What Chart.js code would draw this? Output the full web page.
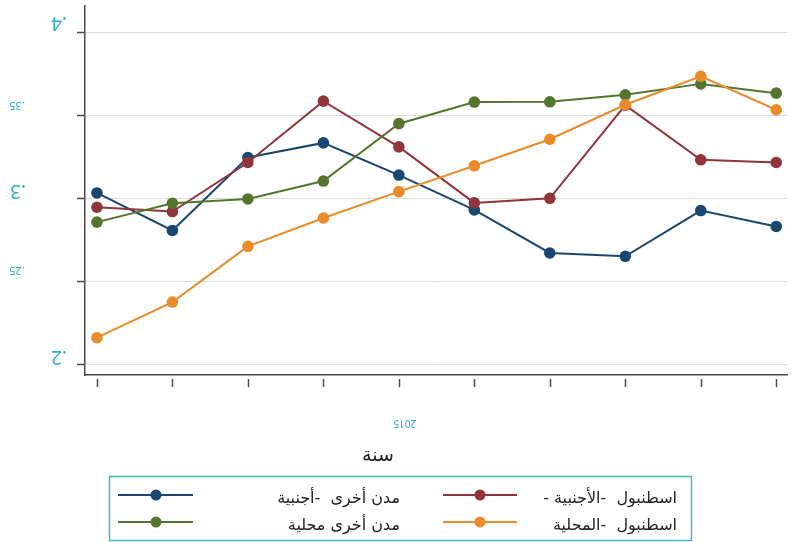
<!DOCTYPE html>
<html>
<head>
<meta charset="utf-8">
<script src="https://cdn.jsdelivr.net/npm/chart.js"></script>
<style>
    html, body { margin: 0; padding: 0; background: #fff; }
    #wrap { width: 793px; height: 542px; }
</style>
</head>
<body>
<div id="wrap"><canvas id="chart" width="793" height="542"></canvas></div>
<script>
// Values
const years = [2011, 2012, 2013, 2014, 2015, 2016, 2017, 2018, 2019, 2020];
const otherForeign = [0.3034, 0.2808, 0.3248, 0.3336, 0.3142, 0.2932, 0.2672, 0.2652, 0.2928, 0.2832];
const istanbulForeign = [0.2948, 0.2922, 0.3218, 0.3588, 0.3312, 0.2974, 0.3002, 0.3564, 0.3234, 0.3218];
const otherLocal = [0.2858, 0.2972, 0.2998, 0.3106, 0.3452, 0.3582, 0.3584, 0.3626, 0.3692, 0.3636];
const istanbulLocal = [0.2161, 0.2376, 0.2712, 0.2883, 0.3042, 0.3198, 0.3358, 0.3566, 0.3738, 0.3536];

const yTicks = [0.2, 0.25, 0.3, 0.35, 0.4];
const yTickLabels = ['.2', '.25', '.3', '.35', '.4'];
const xLabelYears = [2015];
const xLabels = ['2015'];
const xTitle = 'سنة';

const seriesNames = ['مدن أخرى  -أجنبية', 'اسطنبول  -الأجنبية -', 'مدن أخرى محلية', 'اسطنبول  -المحلية'];
const seriesValues = [otherForeign, istanbulForeign, otherLocal, istanbulLocal];
const seriesColors = ['#1a476f', '#90353b', '#55752f', '#e98b2a'];

const TEAL = '#2eb1bf';
const AXIS = '#4a4a4a';

// odd placement of the flipped tick labels in the reference
const yLabelStyle = {
    '.2':  { x: 59, dy: -8, size: 19 },
    '.25': { x: 17, dy: -11, size: 11 },
    '.3':  { x: 18, dy: -8, size: 19 },
    '.35': { x: 17, dy: -11, size: 11 },
    '.4':  { x: 59, dy: -10, size: 19 }
};

function drawFlipped(ctx, text, x, y) {
    ctx.save();
    ctx.translate(x, y);
    ctx.rotate(Math.PI);
    ctx.fillText(text, 0, 0);
    ctx.restore();
}

const decorPlugin = {
    id: 'decor',
    afterDraw(chart) {
        const ctx = chart.ctx;
        const xs = chart.scales.x;
        const ys = chart.scales.y;

        // y tick labels, upside down
        ctx.save();
        ctx.fillStyle = TEAL;
        ctx.textAlign = 'center';
        ctx.textBaseline = 'middle';
        yTicks.forEach((v, i) => {
            const lab = yTickLabels[i];
            const st = yLabelStyle[lab];
            ctx.font = st.size + 'px "Noto Sans", "Open Sans", sans-serif';
            drawFlipped(ctx, lab, st.x, ys.getPixelForValue(v) + st.dy);
        });
        ctx.restore();

        // x tick marks, detached from the axis line
        ctx.save();
        ctx.strokeStyle = AXIS;
        ctx.lineWidth = 1.5;
        years.forEach(yr => {
            const px = Math.round(xs.getPixelForValue(yr)) + 0.5;
            ctx.beginPath();
            ctx.moveTo(px, xs.top + 4);
            ctx.lineTo(px, xs.top + 12);
            ctx.stroke();
        });
        ctx.fillStyle = TEAL;
        ctx.font = '10px "Noto Sans", "Open Sans", sans-serif';
        ctx.textAlign = 'center';
        ctx.textBaseline = 'middle';
        xLabelYears.forEach((yr, i) => {
            drawFlipped(ctx, xLabels[i], xs.getPixelForValue(yr) + 6, xs.top + 48);
        });

        // axis title
        ctx.fillStyle = '#222';
        ctx.font = '19px "DejaVu Sans", sans-serif';
        ctx.direction = 'rtl';
        ctx.fillText(xTitle, 378, 456);
        ctx.restore();

        // legend box
        ctx.save();
        ctx.strokeStyle = '#3cbcc4';
        ctx.lineWidth = 1.5;
        ctx.strokeRect(109.5, 476.5, 582, 64);

        const cols = [
            { x1: 118, x2: 193, mx: 156, tx: 400 },
            { x1: 443, x2: 517, mx: 480, tx: 677 }
        ];
        const rows = [495, 522];
        ctx.font = '16px "DejaVu Sans", sans-serif';
        ctx.textBaseline = 'middle';
        ctx.direction = 'rtl';
        ctx.textAlign = 'right';
        seriesNames.forEach((name, i) => {
            const c = cols[i % 2];
            const ry = rows[Math.floor(i / 2)];
            ctx.strokeStyle = seriesColors[i];
            ctx.lineWidth = 2;
            ctx.beginPath();
            ctx.moveTo(c.x1, ry);
            ctx.lineTo(c.x2, ry);
            ctx.stroke();
            ctx.fillStyle = seriesColors[i];
            ctx.beginPath();
            ctx.arc(c.mx, ry, 5.5, 0, Math.PI * 2);
            ctx.fill();
            ctx.fillStyle = '#222';
            ctx.fillText(name, c.tx, ry + 4);
        });
        ctx.restore();
    }
};

// orange drawn on top, blue at the bottom
const drawOrder = [4, 3, 2, 1];

const datasets = seriesValues.map((vals, i) => ({
    label: seriesNames[i],
    data: years.map((yr, j) => ({ x: yr, y: vals[j] })),
    borderColor: seriesColors[i],
    backgroundColor: seriesColors[i],
    pointBackgroundColor: seriesColors[i],
    pointBorderWidth: 0,
    pointRadius: 5.8,
    borderWidth: 2,
    order: drawOrder[i],
    tension: 0
}));

new Chart(document.getElementById('chart'), {
    type: 'line',
    data: { datasets },
    options: {
        responsive: false,
        animation: false,
        layout: { padding: { top: 1, right: 3, left: 0, bottom: 0 } },
        plugins: {
            legend: { display: false },
            tooltip: { enabled: false }
        },
        scales: {
            x: {
                type: 'linear',
                min: 2010.842,
                max: 2020.145,
                grid: { display: false },
                border: { display: true, color: AXIS, width: 1.5 },
                ticks: { display: false },
                afterFit: s => { s.height = 167; }
            },
            y: {
                type: 'linear',
                min: 0.1936,
                max: 0.4163,
                afterBuildTicks: s => { s.ticks = yTicks.map(v => ({ value: v })); },
                grid: { color: '#dcdcdc', lineWidth: 1, tickLength: 8, tickColor: AXIS, tickWidth: 1.5 },
                border: { display: true, color: AXIS, width: 1.5 },
                ticks: { display: false },
                afterFit: s => { s.width = 85; }
            }
        }
    },
    plugins: [decorPlugin]
});
</script>
</body>
</html>
